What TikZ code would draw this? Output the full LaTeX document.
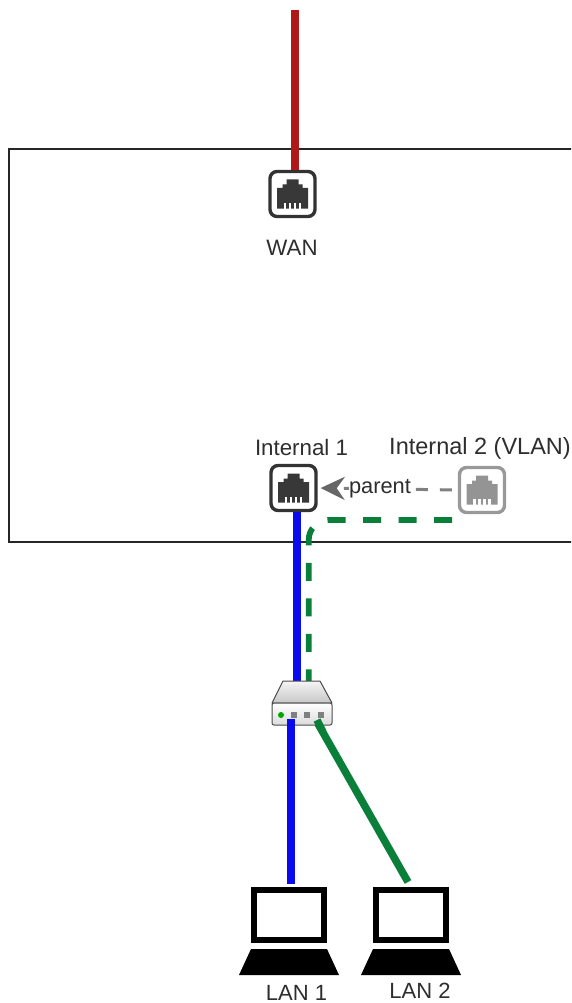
\documentclass[tikz,border=0pt]{standalone}
\usepackage{fontspec}
\setmainfont{Liberation Sans}
\usetikzlibrary{arrows.meta,calc}
\definecolor{wanred}{HTML}{B01818}
\definecolor{lanblue}{HTML}{0A0AEE}
\definecolor{langreen}{HTML}{0A7F3A}
\tikzset{
  portbox/.style={draw=#1,line width=3.4pt,rounded corners=7pt,minimum width=45pt,minimum height=45pt,inner sep=0pt,fill=white},
  lbl/.style={inner sep=0pt,text=black!82,font=\fontsize{22.3}{26}\selectfont},
  wire/.style={line width=7.5pt},
  iconbox/.style={inner sep=0pt,minimum width=#1,minimum height=44pt}
}
\newcommand{\jackicon}[3]{% x y colour
  \begin{scope}[shift={(#1,#2)}]
    \fill[#3] (-6,-15) -- (6,-15) -- (6,-10) -- (10,-10) -- (10,-6.5) -- (15.5,-6.5) -- (15.5,14) -- (-15.5,14) -- (-15.5,-6.5) -- (-10,-6.5) -- (-10,-10) -- (-6,-10) -- cycle;
    \foreach \dx in {-7.5,-2.5,2.5,7.5}
      \fill[white] (\dx-1.1,8) rectangle (\dx+1.1,14.2);
  \end{scope}}
\newcommand{\laptopicon}[2]{% x y of screen top-left
  \begin{scope}[shift={(#1,#2)}]
    \draw[black,line width=6.4pt,fill=white] (3,3) rectangle (73,53);
    \fill[black] (0,62) -- (76,62) -- (88,88) -- (-12,88) -- cycle;
  \end{scope}}
\begin{document}
\begin{tikzpicture}[x=1pt,y=-1pt]
  \clip (0,0) rectangle (571,1003);
  \useasboundingbox (0,0) rectangle (571,1003);
  \fill[white] (0,0) rectangle (571,1003);
  \draw[black!85,line width=1.3pt] (9,149) rectangle (580,542);

  % ports
  \node[portbox=black!80] (wan) at (292.5,194) {};
  \node[portbox=black!80] (int1) at (293.5,488) {};
  \node[portbox=black!40] (int2) at (482,490) {};
  \jackicon{292.5}{194.5}{black!78}
  \jackicon{293.5}{488.5}{black!78}
  \jackicon{482}{490.5}{black!42}

  % device anchors
  \node[iconbox=60pt] (router) at (302,703) {};
  \node[iconbox=76pt] (lap1) at (289,909) {};
  \node[iconbox=76pt] (lap2) at (411,909) {};
  \coordinate (wantop) at (295,10);
  \coordinate (greenstart) at (452,520);
  \coordinate (greenbend) at (308.7,520);

  % connectors
  \draw[wire,wanred] (wantop) -- ([xshift=2.5pt]wan.north);
  \draw[wire,lanblue] ([xshift=3.5pt]int1.south) -- ([xshift=-5pt,yshift=-3pt]router.north);
  \draw[wire,langreen,line width=5.8pt,dash pattern=on 18pt off 17.5pt,rounded corners=20pt]
     (greenstart) -- (greenbend) -- ([xshift=6.7pt,yshift=-3pt]router.north);
  \draw[wire,lanblue] (291,715) -- (291,884);
  \draw[wire,langreen] (317,722) -- (408,882);

  % router
  \draw[black!70,line width=1pt,top color=black!4,bottom color=black!22,line join=round]
     (283,681) -- (320,681) -- (332,703) -- (272,703) -- cycle;
  \draw[black!70,line width=1pt,rounded corners=2pt,top color=white,bottom color=black!14]
     (272,703) rectangle (332,725);
  \draw[wire,lanblue] (291,719) -- (291,730);
  \draw[wire,langreen] (317,720) -- (323,732);
  \fill[green!65!black] (281,715) circle (3pt);
  \foreach \px in {294,307,321}
    \fill[black!50] (\px-3,712) rectangle (\px+3,718);

  % laptops
  \laptopicon{251}{887}
  \laptopicon{373}{887}

  % parent reference
  \draw[draw=black!50,line width=3pt,dash pattern=on 12pt off 12pt,dash phase=-6pt,-{Stealth[length=24pt,width=23pt,inset=8pt,black!60]}]
     (int2.west) -- ([xshift=3pt]int1.east);
  \node[lbl,fill=white,font=\fontsize{21.8}{26}\selectfont,minimum height=20pt] (plabel) at (380,489) {parent};

  % labels
  \node[lbl] (lwan) at (292,248) {WAN};
  \node[lbl] (lint1) at (301.5,448) {Internal 1};
  \node[lbl,font=\fontsize{23.5}{26}\selectfont] (lint2) at (480,448.5) {Internal 2 (VLAN)};
  \node[lbl,font=\fontsize{22}{26}\selectfont] (llan1) at (296.5,992.5) {LAN 1};
  \node[lbl,font=\fontsize{22}{26}\selectfont] (llan2) at (420,991) {LAN 2};
\end{tikzpicture}
\end{document}
